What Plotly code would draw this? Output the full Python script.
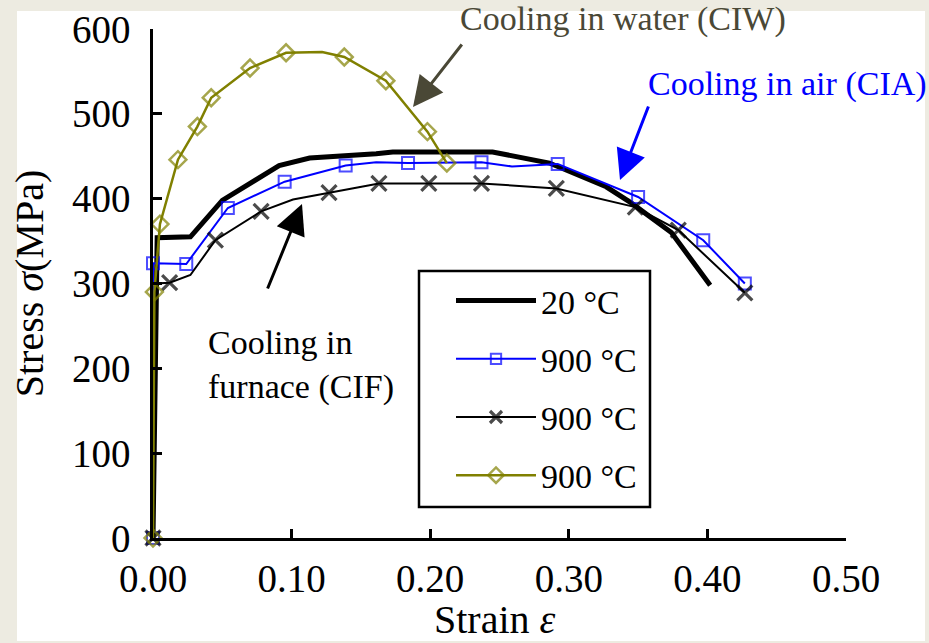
import plotly.graph_objects as go

# ---------------- data ----------------
strain_20 = [0.0, 0.003, 0.027, 0.050, 0.091, 0.113, 0.161, 0.173, 0.245, 0.286, 0.327, 0.345, 0.374, 0.402]
stress_20 = [0, 354, 355, 398, 439, 448, 453, 455, 455, 442, 414, 395, 360, 298]

strain_cia = [0.0, 0.0, 0.024, 0.054, 0.095, 0.139, 0.161, 0.184, 0.237, 0.259, 0.292, 0.350, 0.397, 0.427]
stress_cia = [0, 324, 323, 389, 420, 439, 443, 442, 443, 438, 441, 402, 351, 300]
cia_marker = [True, True, True, True, True, True, False, True, True, False, True, True, True, True]

strain_cif = [0.0, 0.002, 0.012, 0.027, 0.045, 0.078, 0.101, 0.127, 0.163, 0.199, 0.237, 0.291, 0.348, 0.379, 0.427]
stress_cif = [0, 300, 301, 310, 351, 385, 399, 407, 418, 418, 418, 412, 390, 363, 289]
cif_marker = [True, False, True, False, True, True, False, True, True, True, True, True, True, True, True]

strain_ciw = [0.0, 0.001, 0.005, 0.018, 0.032, 0.042, 0.070, 0.096, 0.122, 0.138, 0.168, 0.198, 0.212]
stress_ciw = [0, 290, 370, 446, 485, 519, 554, 572, 573, 567, 539, 479, 442]
ciw_marker = [True, True, True, True, True, True, True, True, False, True, True, True, True]

legend_names = ["20 °C", "900 °C", "900 °C", "900 °C"]
x_ticks = [0.0, 0.1, 0.2, 0.3, 0.4, 0.5]
x_tick_text = ["0.00", "0.10", "0.20", "0.30", "0.40", "0.50"]
y_ticks = [0, 100, 200, 300, 400, 500, 600]

# ---------------- layout geometry ----------------
W, H = 929, 643
ML, MR, MT, MB = 153, 83, 29, 105
PW, PH = W - ML - MR, H - MT - MB
FONT = "Liberation Serif"
BLUE = "#0000FF"
OLIVE = "#808000"
ARROW_GRAY = "#4a4836"


def px(xp):
    return (xp - ML) / PW


def py(yp):
    return (H - MB - yp) / PH


def sizes(flags, s):
    return [s if f else 0 for f in flags]


fig = go.Figure()
fig.add_trace(go.Scatter(
    x=strain_20, y=stress_20, mode="lines", name=legend_names[0],
    line=dict(color="black", width=5), cliponaxis=False, legendgroup="a"))
fig.add_trace(go.Scatter(
    x=strain_cia, y=stress_cia, mode="lines+markers", name=legend_names[1],
    line=dict(color=BLUE, width=2),
    marker=dict(symbol="square-open", size=sizes(cia_marker, 12), color=BLUE,
                line=dict(width=2, color=BLUE)),
    cliponaxis=False, legendgroup="b"))
fig.add_trace(go.Scatter(
    x=strain_cif, y=stress_cif, mode="lines+markers", name=legend_names[2],
    line=dict(color="black", width=2),
    marker=dict(symbol="x-thin", size=sizes(cif_marker, 15), color="black",
                line=dict(width=3.2, color="black")),
    cliponaxis=False, legendgroup="c"))
fig.add_trace(go.Scatter(
    x=strain_ciw, y=stress_ciw, mode="lines+markers", name=legend_names[3],
    line=dict(color=OLIVE, width=2.5),
    marker=dict(symbol="diamond-open", size=sizes(ciw_marker, 13), color=OLIVE,
                line=dict(width=2.5, color=OLIVE)),
    cliponaxis=False, legendgroup="d"))

annotations = [
    dict(xref="paper", yref="paper", x=px(458), y=py(19), xanchor="left", yanchor="middle",
         text="Cooling in water (CIW)", showarrow=False,
         font=dict(family=FONT, size=34, color=ARROW_GRAY)),
    dict(xref="paper", yref="paper", x=px(646), y=py(84), xanchor="left", yanchor="middle",
         text="Cooling in air (CIA)", showarrow=False,
         font=dict(family=FONT, size=34, color=BLUE)),
    dict(xref="paper", yref="paper", x=px(206), y=py(365), xanchor="left", yanchor="middle",
         align="left", text="Cooling in<br>furnace (CIF)", showarrow=False,
         font=dict(family=FONT, size=34, color="black")),
    # x-axis title
    dict(xref="paper", yref="paper", x=px(495), y=py(619), xanchor="center", yanchor="middle",
         text="Strain <i>ε</i>", showarrow=False,
         font=dict(family=FONT, size=40, color="black")),
    # arrows
    dict(xref="paper", yref="paper", x=px(413), y=py(107),
         ax=463 - 413, ay=43 - 107, text="", showarrow=True, arrowhead=2, arrowsize=2,
         arrowwidth=3, arrowcolor=ARROW_GRAY, standoff=0),
    dict(xref="paper", yref="paper", x=px(620), y=py(180), ax=649 - 620, ay=105 - 180,
         text="", showarrow=True, arrowhead=2, arrowsize=2,
         arrowwidth=3, arrowcolor=BLUE, standoff=0),
    dict(xref="paper", yref="paper", x=px(302), y=py(204), ax=267 - 302, ay=290 - 204,
         text="", showarrow=True, arrowhead=2, arrowsize=2,
         arrowwidth=3, arrowcolor="black", standoff=0),
]

shapes = [
    # white figure panel on the beige page
    dict(type="rect", xref="paper", yref="paper", layer="below",
         x0=px(17), x1=px(925), y0=py(641), y1=py(11),
         fillcolor="white", line=dict(width=0)),
    # legend frame
    dict(type="rect", xref="paper", yref="paper", layer="above",
         x0=px(419), x1=px(650), y0=py(507), y1=py(271),
         fillcolor="white", line=dict(width=2.5, color="black")),
]

fig.update_layout(
    width=W, height=H,
    margin=dict(l=ML, r=MR, t=MT, b=MB, pad=0, autoexpand=False),
    paper_bgcolor="#EDEBE1",
    plot_bgcolor="rgba(0,0,0,0)",
    font=dict(family=FONT, size=39, color="black"),
    showlegend=True,
    legend=dict(
        x=px(421), y=py(272), xanchor="left", yanchor="top",
        bgcolor="rgba(0,0,0,0)", borderwidth=0,
        font=dict(family=FONT, size=34, color="black"),
        itemwidth=80, tracegroupgap=11, traceorder="grouped", indentation=30,
    ),
    xaxis=dict(
        range=[0, 0.5], tickvals=x_ticks, ticktext=x_tick_text,
        showline=True, linecolor="black", linewidth=2.5,
        ticks="inside", ticklen=9, tickwidth=2.5, tickcolor="black",
        showgrid=False, zeroline=False, automargin=False,
        tickfont=dict(family=FONT, size=39),
        ticklabelstandoff=4,
    ),
    yaxis=dict(
        range=[0, 600], tickvals=y_ticks,
        showline=True, linecolor="black", linewidth=2.5,
        ticks="inside", ticklen=9, tickwidth=2.5, tickcolor="black",
        showgrid=False, zeroline=False, automargin=False,
        tickfont=dict(family=FONT, size=39),
        ticklabelstandoff=12,
        title=dict(text="Stress <i>σ</i>(MPa)", font=dict(family=FONT, size=40), standoff=16),
    ),
    annotations=annotations,
    shapes=shapes,
)

fig.write_html("out.html", config={"displayModeBar": False},
               post_script="document.body.style.margin='0px';")
